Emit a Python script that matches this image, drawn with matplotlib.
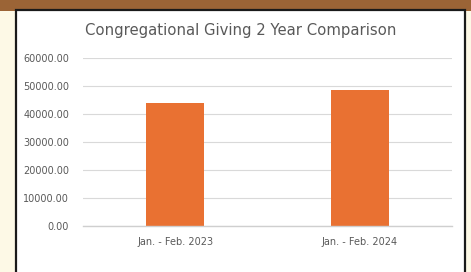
import matplotlib.pyplot as plt
from matplotlib.patches import Rectangle

categories = ["Jan. - Feb. 2023", "Jan. - Feb. 2024"]
giving = [44000, 48600]
yticks = [0, 10000, 20000, 30000, 40000, 50000, 60000]

W, H = 471, 272
fig = plt.figure(figsize=(W / 100, H / 100), dpi=100)
fig.patch.set_facecolor("#fdf9e6")

# brown band on top and white chart box
fig.patches.append(Rectangle((0, 1 - 11 / H), 1, 11 / H, transform=fig.transFigure,
                             facecolor="#9b6436", edgecolor="none", zorder=0))
fig.patches.append(Rectangle((16 / W, -0.01), (465 - 16) / W, (H - 10) / H + 0.01,
                             transform=fig.transFigure, facecolor="white",
                             edgecolor="#1a1a1a", linewidth=1.6, zorder=0))

ax = fig.add_axes([83 / W, 1 - 226 / H, (452 - 83) / W, (226 - 58) / H])
ax.set_zorder(2)
ax.set_facecolor("none")
ax.bar(range(len(categories)), giving, width=0.315, color="#e97132", zorder=3)

ax.set_xlim(-0.5, 1.5)
ax.set_ylim(0, 60000)
ax.set_yticks(yticks)
ax.set_yticklabels([f"{v:.2f}" for v in yticks])
ax.set_xticks(range(len(categories)))
ax.set_xticklabels(categories)
ax.tick_params(length=0, labelsize=7, labelcolor="#595959")
ax.tick_params(axis="y", pad=10)
ax.tick_params(axis="x", pad=8)
ax.grid(axis="y", color="#d9d9d9", linewidth=0.8, zorder=0)
ax.set_axisbelow(True)
for s in ax.spines.values():
    s.set_visible(False)
ax.axhline(0, color="#cfcfcf", linewidth=1.0, zorder=4, clip_on=False)

fig.text(241 / W, 1 - 30 / H, "Congregational Giving 2 Year Comparison",
         ha="center", va="center", fontsize=10.7, color="#595959", zorder=5)

fig.savefig("out.png", dpi=100, facecolor=fig.get_facecolor())
